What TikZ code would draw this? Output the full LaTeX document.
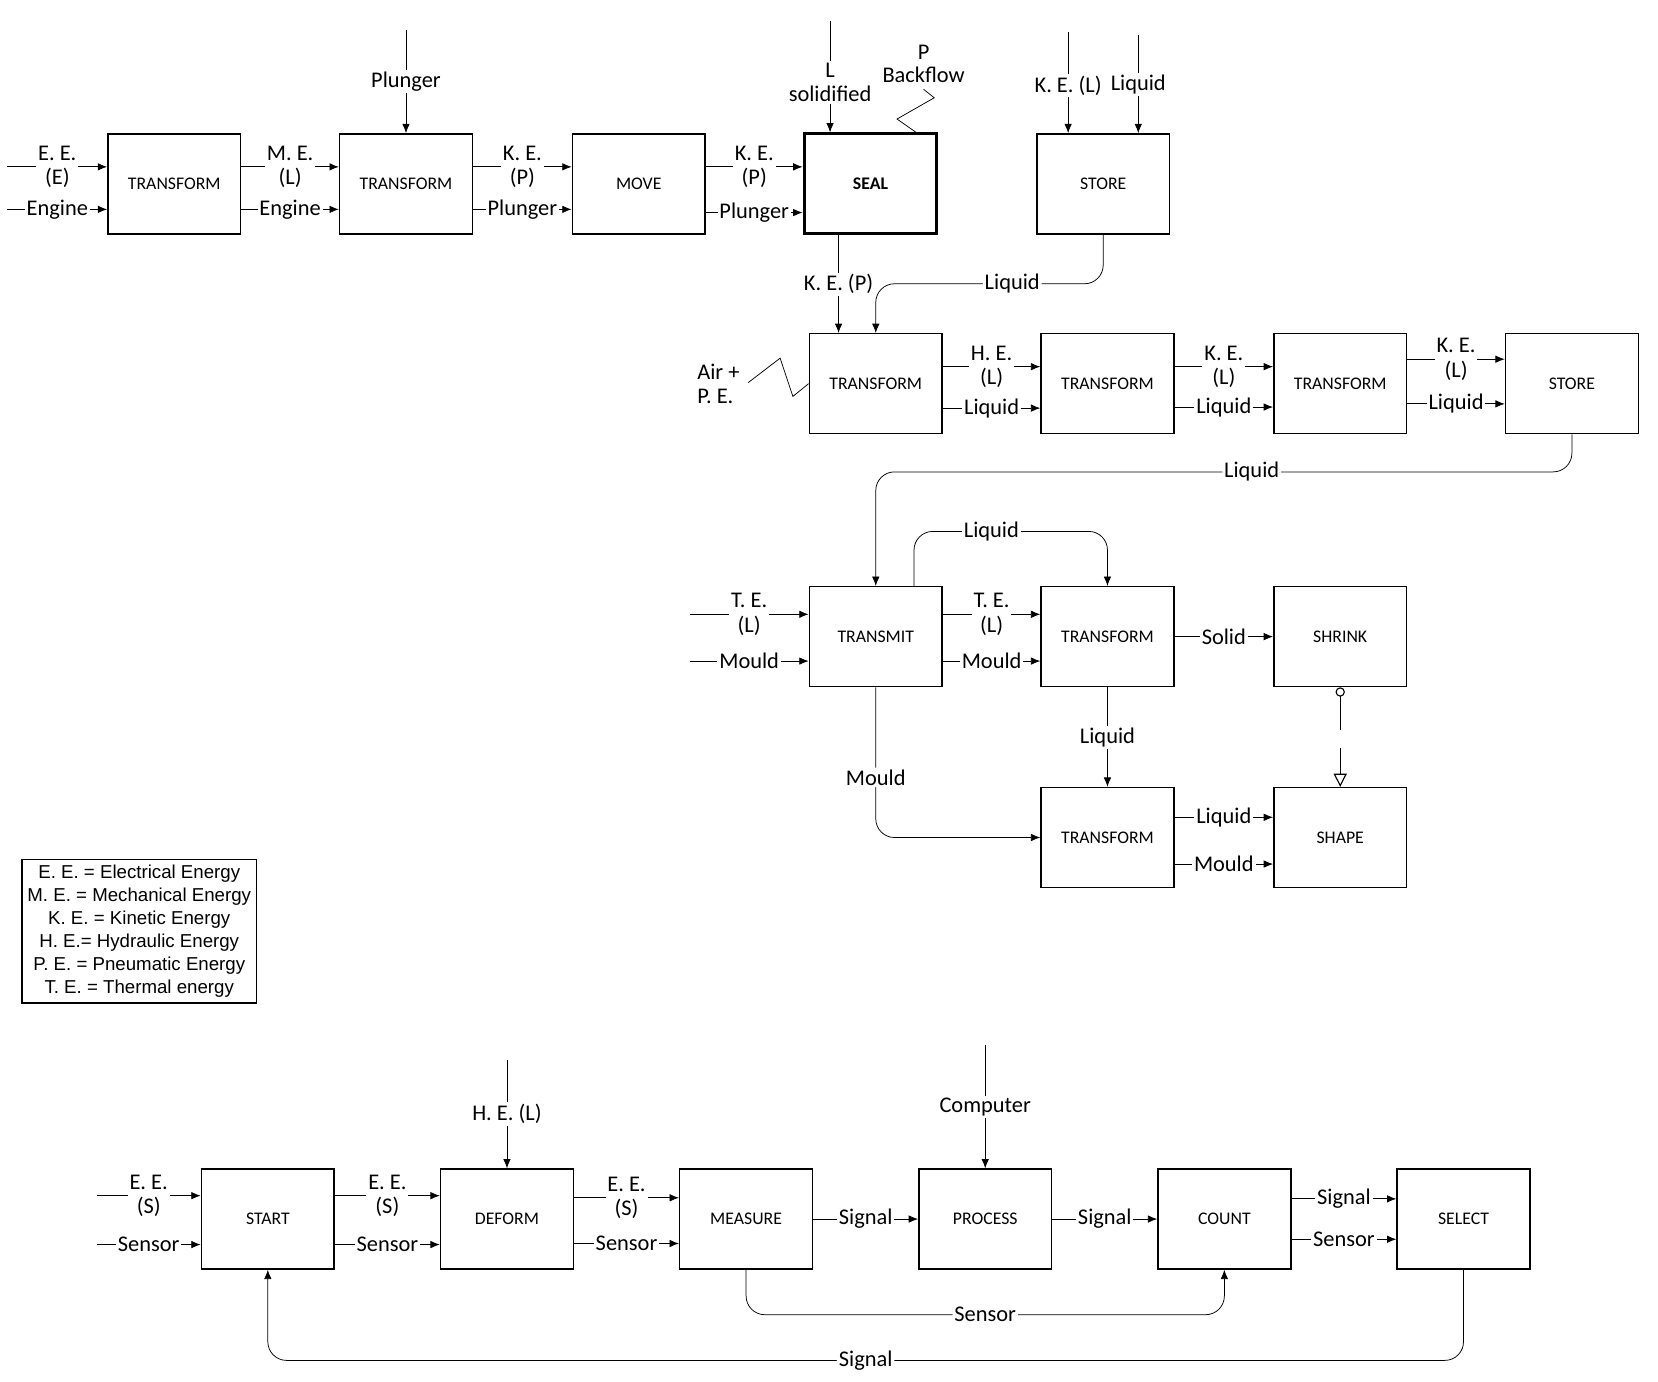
\documentclass[tikz,border=0pt]{standalone}
\usepackage{fontspec}
\setmainfont{Carlito}
\newfontfamily\legendfont{Liberation Sans}
\usetikzlibrary{positioning,arrows.meta}
\begin{document}
\begin{tikzpicture}[
  x=0.02cm,
  y=-0.02cm,
  font=\fontsize{12}{13}\selectfont,
  >={Latex[length=5pt,width=4pt]},
  box/.style={draw, thick, align=center, minimum width=2.5cm, minimum height=1.88cm, inner sep=2pt, font=\fontsize{9.5}{11}\selectfont},
  sealbox/.style={box, line width=1.6pt, font=\fontsize{9.5}{11}\selectfont\bfseries},
  lbl/.style={fill=white, inner sep=1pt, align=center},
  arr/.style={->, thin},
  flow/.style={->, thin, rounded corners=10pt}
]
\useasboundingbox (6,0) rectangle (1566,1300);

% Zeile 1
\node[box] (tr1) at (170,173) {TRANSFORM};
\node[box] (tr2) at (388,173) {TRANSFORM};
\node[box] (move) at (607,173) {MOVE};
\node[sealbox] (seal) at (825,173) {SEAL};
\node[box] (store1) at (1044,173) {STORE};

% Zeile 2
\node[box] (tr3) at (830,361) {TRANSFORM};
\node[box] (tr4) at (1048,361) {TRANSFORM};
\node[box] (tr5) at (1267,361) {TRANSFORM};
\node[box] (store2) at (1485,361) {STORE};

% Zeile 3 und 4
\node[box] (transmit) at (830,599) {TRANSMIT};
\node[box] (tr6) at (1048,599) {TRANSFORM};
\node[box] (shrink) at (1267,599) {SHRINK};
\node[box] (tr7) at (1048,788) {TRANSFORM};
\node[box] (shape) at (1267,788) {SHAPE};

% Zeile 5
\node[box] (start) at (258,1147) {START};
\node[box] (deform) at (483,1147) {DEFORM};
\node[box] (measure) at (708,1147) {MEASURE};
\node[box] (process) at (933,1147) {PROCESS};
\node[box] (count) at (1158,1147) {COUNT};
\node[box] (select) at (1383,1147) {SELECT};

% Legende
\node[draw, thick, align=center, inner sep=3pt, font=\legendfont\fontsize{10}{12.3}\selectfont] (legend) at (137,876)
  {E. E. = Electrical Energy\\M. E. = Mechanical Energy\\K. E. = Kinetic Energy\\H. E.= Hydraulic Energy\\P. E. = Pneumatic Energy\\T. E. = Thermal energy};

% freie Enden
\coordinate (inEE) at (13,157);
\coordinate (inEng) at (13,197);
\coordinate (inPl) at (388,28);
\coordinate (inL) at (787,20);
\coordinate (inKE) at (1011,30);
\coordinate (inLq) at (1077,33);
\coordinate (inTE) at (655,578);
\coordinate (inMo) at (655,622);
\coordinate (inES) at (97,1125);
\coordinate (inSe) at (97,1171);
\coordinate (inHE) at (483,997);
\coordinate (inCo) at (933,983);

% Zeile 1: Verbindungen
\draw[arr] (inEE) -- node[lbl]{E. E.\\(E)} (tr1.west |- inEE);
\draw[arr] (inEng) -- node[lbl]{Engine} (tr1.west |- inEng);
\draw[arr] (tr1.east |- inEE) -- node[lbl]{M. E.\\(L)} (tr2.west |- inEE);
\draw[arr] (tr1.east |- inEng) -- node[lbl]{Engine} (tr2.west |- inEng);
\draw[arr] (tr2.east |- inEE) -- node[lbl]{K. E.\\(P)} (move.west |- inEE);
\draw[arr] (tr2.east |- inEng) -- node[lbl]{Plunger} (move.west |- inEng);
\draw[arr] (move.east |- 0,157) -- node[lbl]{K. E.\\(P)} (seal.west |- 0,157);
\draw[arr] (move.east |- 0,200) -- node[lbl]{Plunger} (seal.west |- 0,200);
\draw[arr] (inPl) -- node[lbl, pos=0.5]{Plunger} (tr2.north);
\draw[arr] (inL) -- node[lbl, pos=0.55]{L\\solidified} (seal.north -| inL);
\draw (seal.north -| 868,0) -- (850,112) -- (885,92) -- (875,84);
\node[align=center] (backflow) at (875,60) {P\\[-1pt]Backflow};
\draw[arr] (inKE) -- node[lbl, pos=0.53]{K. E. (L)} (store1.north -| inKE);
\draw[arr] (inLq) -- node[lbl, pos=0.5]{Liquid} (store1.north -| inLq);

% Zeile 1 -> Zeile 2
\draw[arr] (seal.south -| 795,0) -- node[lbl, pos=0.5]{K. E. (P)} (tr3.north -| 795,0);
\draw[flow] (store1.south) |- node[lbl, pos=0.7]{Liquid} (830,267) -- (tr3.north -| 830,0);
\draw (tr3.west |- 0,361) -- (752,373) -- (740,337) -- (710,360);
\node[align=left, anchor=east] (air) at (708,361) {Air +\\P. E.};

% Zeile 2: Verbindungen
\draw[arr] (tr3.east |- 0,345) -- node[lbl]{H. E.\\(L)} (tr4.west |- 0,345);
\draw[arr] (tr3.east |- 0,384) -- node[lbl]{Liquid} (tr4.west |- 0,384);
\draw[arr] (tr4.east |- 0,345) -- node[lbl]{K. E.\\(L)} (tr5.west |- 0,345);
\draw[arr] (tr4.east |- 0,383) -- node[lbl]{Liquid} (tr5.west |- 0,383);
\draw[arr] (tr5.east |- 0,338) -- node[lbl]{K. E.\\(L)} (store2.west |- 0,338);
\draw[arr] (tr5.east |- 0,380) -- node[lbl]{Liquid} (store2.west |- 0,380);
\draw[flow] (store2.south) |- node[lbl, pos=0.73]{Liquid} (830,444) -- (transmit.north);

% Zeile 3 und 4
\draw[arr] (inTE) -- node[lbl]{T. E.\\(L)} (transmit.west |- inTE);
\draw[arr] (inMo) -- node[lbl]{Mould} (transmit.west |- inMo);
\draw[arr] (transmit.east |- inTE) -- node[lbl]{T. E.\\(L)} (tr6.west |- inTE);
\draw[arr] (transmit.east |- inMo) -- node[lbl]{Mould} (tr6.west |- inMo);
\draw[flow] (transmit.north -| 866,0) |- node[lbl, pos=0.7]{Liquid} (1048,500) -- (tr6.north);
\draw[arr] (tr6) -- node[lbl]{Solid} (shrink);
\draw[arr] (tr6) -- node[lbl]{Liquid} (tr7);
\draw[{Circle[open,length=5pt]}-{Triangle[open,length=7pt,width=7pt]}, dash pattern=on 18pt off 10pt, semithick] (shrink.south) -- (shape.north);
\draw[flow] (transmit.south) |- node[lbl, pos=0.3]{Mould} (tr7.west);
\draw[arr] (tr7.east |- 0,769) -- node[lbl]{Liquid} (shape.west |- 0,769);
\draw[arr] (tr7.east |- 0,813) -- node[lbl]{Mould} (shape.west |- 0,813);

% Zeile 5
\draw[arr] (inES) -- node[lbl]{E. E.\\(S)} (start.west |- inES);
\draw[arr] (inSe) -- node[lbl]{Sensor} (start.west |- inSe);
\draw[arr] (start.east |- inES) -- node[lbl]{E. E.\\(S)} (deform.west |- inES);
\draw[arr] (start.east |- inSe) -- node[lbl]{Sensor} (deform.west |- inSe);
\draw[arr] (deform.east |- 0,1127) -- node[lbl]{E. E.\\(S)} (measure.west |- 0,1127);
\draw[arr] (deform.east |- 0,1170) -- node[lbl]{Sensor} (measure.west |- 0,1170);
\draw[arr] (inHE) -- node[lbl, pos=0.5]{H. E. (L)} (deform.north);
\draw[arr] (measure) -- node[lbl]{Signal} (process);
\draw[arr] (inCo) -- node[lbl, pos=0.5]{Computer} (process.north);
\draw[arr] (process) -- node[lbl]{Signal} (count);
\draw[arr] (count.east |- 0,1128) -- node[lbl]{Signal} (select.west |- 0,1128);
\draw[arr] (count.east |- 0,1166) -- node[lbl]{Sensor} (select.west |- 0,1166);
\draw[flow] (measure.south) |- node[lbl, pos=0.75]{Sensor} (1158,1237) -- (count.south);
\draw[flow] (select.south) |- node[lbl, pos=0.75]{Signal} (258,1280) -- (start.south);
\end{tikzpicture}
\end{document}
